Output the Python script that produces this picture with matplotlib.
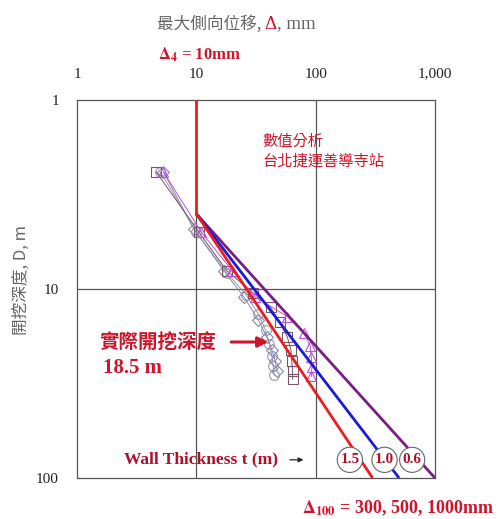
import numpy as np
import matplotlib
matplotlib.use("Agg")
import matplotlib.pyplot as plt
from matplotlib.ticker import FixedLocator, FixedFormatter, NullLocator

plt.rcParams["mathtext.fontset"] = "stix"

# data
x_ticks = [1, 10, 100, 1000]
x_tick_labels = ["1", "10", "100", "1,000"]
y_ticks = [1, 10, 100]
y_tick_labels = ["1", "10", "100"]

# design lines: delta = 10 mm down to 4 m, then to delta_100
d4_disp = 10
d4_depth = 4
d100_disp = [300, 500, 1000]
wall_t = ["1.5", "1.0", "0.6"]
line_colors = ["#ee1c1c", "#1a1ad8", "#7a1f82"]

# observed / computed points (four series)
circ_disp = [5.0, 10.0, 18, 26, 33, 38, 41, 43, 44, 45]
circ_depth = [2.4, 5.0, 8.2, 10.7, 13.5, 16.5, 19.5, 22.5, 25.5, 28.5]
diam_disp = [5.3, 9.5, 17, 25, 33, 39, 43, 46, 47]
diam_depth = [2.4, 4.8, 8.0, 11, 14.5, 18, 21, 24, 27]
sq_disp = [4.6, 10.5, 18, 30, 42, 50, 58, 62, 63, 64, 64]
sq_depth = [2.4, 5.0, 8, 10.5, 12.5, 15, 18, 21, 24, 27, 30]
tri_disp = [5.3, 11, 20, 31, 58, 80, 90, 92, 93, 92]
tri_depth = [2.4, 5.0, 8, 11, 14, 17, 20, 23, 26, 29]

cjk = ["Noto Sans CJK TC", "DejaVu Sans"]
serif = "Liberation Serif"
red = "#d0142c"
gray = "#666666"

fig = plt.figure(figsize=(5.02, 5.19), dpi=100)
ax = fig.add_axes([0.1534, 0.079, 0.7131, 0.7283])
ax.set_xscale("log")
ax.set_yscale("log")
ax.set_xlim(1, 1000)
ax.set_ylim(100, 1)

# grid at decades only
for v in [10, 100]:
    ax.axvline(v, color="#555555", lw=0.9, zorder=1)
ax.axhline(10, color="#555555", lw=0.9, zorder=1)

# data series
ax.plot(circ_disp, circ_depth, color="#9a9aaa", lw=0.7, marker="o", ms=7,
        mfc="none", mec="#9a9aaa", mew=0.8, zorder=2)
ax.plot(diam_disp, diam_depth, color="#8888b0", lw=0.7, marker="D", ms=6,
        mfc="none", mec="#8888b0", mew=0.8, zorder=2)
ax.plot(sq_disp, sq_depth, color="#7a5566", lw=0.7, marker="s", ms=7,
        mfc="none", mec="#7a5566", mew=0.8, zorder=2)
ax.plot(tri_disp, tri_depth, color="#c050e0", lw=0.7, marker="^", ms=7,
        mfc="none", mec="#c050e0", mew=0.8, zorder=2)

# design lines
for d, c in zip(d100_disp[::-1], line_colors[::-1]):
    ax.plot([d4_disp, d], [d4_depth, 100], color=c, lw=2.0, zorder=3,
            solid_capstyle="butt")
ax.plot([d4_disp, d4_disp], [1, d4_depth], color=line_colors[0], lw=2.0,
        zorder=3)

# ticks
ax.xaxis.set_ticks_position("top")
ax.xaxis.set_label_position("top")
ax.xaxis.set_major_locator(FixedLocator(x_ticks))
ax.xaxis.set_major_formatter(FixedFormatter(x_tick_labels))
ax.xaxis.set_minor_locator(NullLocator())
ax.yaxis.set_major_locator(FixedLocator(y_ticks))
ax.yaxis.set_major_formatter(FixedFormatter(y_tick_labels))
ax.yaxis.set_minor_locator(NullLocator())
ax.tick_params(length=0, pad=14, labelsize=11, colors="#222222")
ax.tick_params(axis="y", pad=13)
for lab in ax.get_xticklabels() + ax.get_yticklabels():
    lab.set_fontfamily(serif)
for s in ax.spines.values():
    s.set_color("#555555")
    s.set_linewidth(0.9)

# title: 最大側向位移, Δ, mm (Δ red) - pieces placed side by side
fig.canvas.draw()
r = fig.canvas.get_renderer()
ty = 0.945
t1 = fig.text(0.312, ty, "最大側向位移, ", family=cjk, fontsize=12,
              color=gray, va="baseline")
x1 = t1.get_window_extent(r).x1 / fig.bbox.width
t2 = fig.text(x1, ty, "Δ", fontsize=13.5, color=red, family=serif,
              va="baseline")
x2 = t2.get_window_extent(r).x1 / fig.bbox.width
fig.text(x2, ty, ", mm", fontsize=13.5, color=gray, family=serif,
         va="baseline")

# y label
fig.text(0.042, 0.46, "開挖深度, D, m", family=cjk, fontsize=12, color=gray,
         rotation=90, va="center", ha="center")

# annotations
fig.text(0.398, 0.894, r"$\mathbf{\Delta}_\mathbf{4}$ = 10mm", fontsize=12,
         color=red, family=serif, weight="bold", ha="center", va="center")
fig.text(0.522, 0.709, "數值分析\n台北捷運善導寺站", family=cjk, fontsize=11,
         color=red, va="center", ha="left", linespacing=1.2)
fig.text(0.198, 0.341, "實際開挖深度", family=cjk, fontsize=14,
         color=red, weight="bold", va="center", ha="left")
fig.text(0.205, 0.291, "18.5 m", family=serif, fontsize=15, color=red,
         weight="bold", va="center", ha="left")
ax.annotate("", xy=(0.54, 0.341), xytext=(0.455, 0.341),
            xycoords="figure fraction", textcoords="figure fraction",
            arrowprops=dict(arrowstyle="-|>", color=red, lw=2.2,
                            mutation_scale=15))

fig.text(0.248, 0.114, "Wall Thickness t (m)", family=serif, fontsize=12.5,
         color="#b0102a", weight="bold", va="center", ha="left")
ax.annotate("", xy=(0.61, 0.114), xytext=(0.572, 0.114),
            xycoords="figure fraction", textcoords="figure fraction",
            arrowprops=dict(arrowstyle="-|>", color="#222222", lw=0.9,
                            mutation_scale=7))
for xs, t in zip([0.697, 0.766, 0.821], wall_t):
    fig.text(xs, 0.114, t, family=serif, fontsize=11, color="#b0102a",
             weight="bold", va="center", ha="center", zorder=5,
             bbox=dict(boxstyle="circle,pad=0.2", fc="white",
                       ec="#666666", lw=0.8))

fig.text(0.602, 0.021, r"$\mathbf{\Delta}_\mathbf{100}$ = 300, 500, 1000mm",
         family=serif, fontsize=13, color=red, weight="bold",
         va="center", ha="left")

fig.savefig("out.png", dpi=100)
